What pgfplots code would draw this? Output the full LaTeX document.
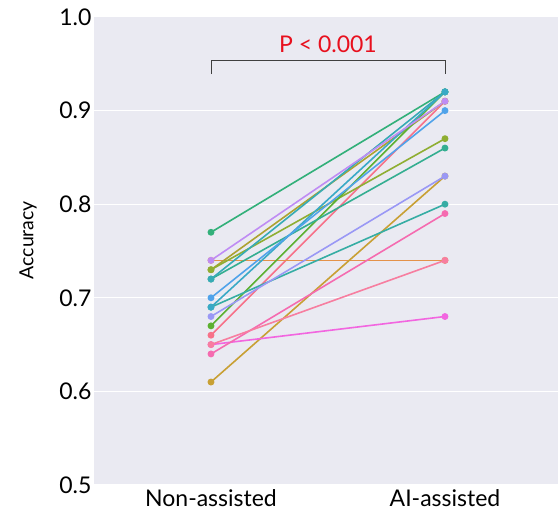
\documentclass[border=0pt]{standalone}
\usepackage{fontspec}
\setmainfont{Lato}
\usepackage{pgfplots}
\pgfplotsset{compat=1.18}
\definecolor{panel}{HTML}{EAEAF2}
\definecolor{pred}{HTML}{E8101E}
\definecolor{c1}{HTML}{F77189}
\definecolor{c2}{HTML}{E4924A}
\definecolor{c3}{HTML}{C8A034}
\definecolor{c4}{HTML}{ADA231}
\definecolor{c5}{HTML}{8FAE32}
\definecolor{c6}{HTML}{5CB031}
\definecolor{c7}{HTML}{33B07A}
\definecolor{c8}{HTML}{34AE91}
\definecolor{c9}{HTML}{36ADA4}
\definecolor{c10}{HTML}{37ABB5}
\definecolor{c11}{HTML}{39A9C6}
\definecolor{c12}{HTML}{50A3EA}
\definecolor{c13}{HTML}{9A98F5}
\definecolor{c14}{HTML}{BF8CF4}
\definecolor{c15}{HTML}{F266E0}
\definecolor{c16}{HTML}{F56BB0}
\definecolor{c17}{HTML}{F77EA0}
\begin{document}
\begin{tikzpicture}
\begin{axis}[
  at={(0,0)}, anchor=south west,
  scale only axis, width=464pt, height=468pt,
  xmin=-0.5, xmax=1.483, ymin=0.5, ymax=1.0,
  xtick={0,1}, xticklabels={Non-assisted, AI-assisted},
  ytick={0.5,0.6,0.7,0.8,0.9,1.0},
  /pgf/number format/fixed, /pgf/number format/fixed zerofill,
  /pgf/number format/precision=1, /pgf/number format/assume math mode=true,
  ticklabel style={font=\fontsize{23}{26}\selectfont},
  major tick length=0pt,
  xticklabel style={yshift=-1pt},
  yticklabel style={xshift=1pt},
  axis line style={draw=none},
  axis background/.style={fill=panel},
  ymajorgrids, grid style={white, line width=1pt},
  ylabel={Accuracy},
  ylabel style={at={(axis description cs:-0.142,0.523)}, anchor=center, font=\fontsize{19.5}{22}\selectfont},
  every axis plot/.append style={line width=1.6pt, mark=*, mark size=2.6pt},
  clip=false,
]
\addplot[c1, mark options={fill=c1}] coordinates {(0,0.66) (1,0.91)};
\addplot[c2, mark options={fill=c2}] coordinates {(0,0.74) (1,0.74)};
\addplot[c3, mark options={fill=c3}] coordinates {(0,0.61) (1,0.83)};
\addplot[c4, mark options={fill=c4}] coordinates {(0,0.73) (1,0.91)};
\addplot[c5, mark options={fill=c5}] coordinates {(0,0.73) (1,0.87)};
\addplot[c6, mark options={fill=c6}] coordinates {(0,0.67) (1,0.92)};
\addplot[c7, mark options={fill=c7}] coordinates {(0,0.77) (1,0.92)};
\addplot[c8, mark options={fill=c8}] coordinates {(0,0.72) (1,0.86)};
\addplot[c9, mark options={fill=c9}] coordinates {(0,0.69) (1,0.80)};
\addplot[c10, mark options={fill=c10}] coordinates {(0,0.72) (1,0.92)};
\addplot[c11, mark options={fill=c11}] coordinates {(0,0.69) (1,0.92)};
\addplot[c12, mark options={fill=c12}] coordinates {(0,0.70) (1,0.90)};
\addplot[c13, mark options={fill=c13}] coordinates {(0,0.68) (1,0.83)};
\addplot[c14, mark options={fill=c14}] coordinates {(0,0.74) (1,0.91)};
\addplot[c15, mark options={fill=c15}] coordinates {(0,0.65) (1,0.68)};
\addplot[c16, mark options={fill=c16}] coordinates {(0,0.64) (1,0.79)};
\addplot[c17, mark options={fill=c17}] coordinates {(0,0.65) (1,0.74)};
\draw[black!75, line width=0.9pt] (axis cs:0,0.939) -- (axis cs:0,0.954) -- (axis cs:1,0.954) -- (axis cs:1,0.939);
\node[pred, font=\fontsize{23}{26}\selectfont, anchor=base] at (axis cs:0.5,0.962) {P < 0.001};
\end{axis}
\pgfresetboundingbox
\path (-94pt,-34pt) rectangle (464pt,485pt);
\end{tikzpicture}
\end{document}
